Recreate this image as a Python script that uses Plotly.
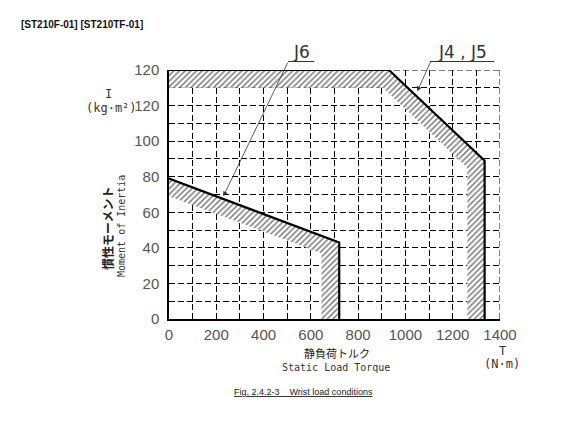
import plotly.graph_objects as go

# ---- data ----
x_ticks = [0, 200, 400, 600, 800, 1000, 1200, 1400]
y_tick_vals = [0, 20, 40, 60, 80, 100, 120, 140]
y_tick_text = ["0", "20", "40", "60", "80", "100", "120", "120"]  # as printed in the original

j45_T = [0, 930, 1335, 1335]
j45_I = [140, 140, 89, 0]
j45_inner_T = [0, 905, 1262, 1262]
j45_inner_I = [130, 130, 85, 0]

j6_T = [0, 720, 720]
j6_I = [79, 43, 0]
j6_inner_T = [0, 645, 645]
j6_inner_I = [69, 37, 0]

# arrow targets (data coordinates)
j6_arrow = (230, 69)
j45_arrow = (1050, 128)

# ---- layout geometry ----
W, H = 576, 439
L, R, T, B = 169, 500, 70, 319
PW, PH = R - L, B - T


def px(xp):
    return (xp - L) / PW


def py(yp):
    return (B - yp) / PH


fig = go.Figure()


def band(outer_x, outer_y, inner_x, inner_y):
    xs = list(outer_x) + list(reversed(inner_x))
    ys = list(outer_y) + list(reversed(inner_y))
    return go.Scatter(x=xs, y=ys, mode="lines", fill="toself",
                      line=dict(width=0, color="rgba(0,0,0,0)"),
                      fillcolor="white",
                      fillpattern=dict(shape="/", fgcolor="#000", bgcolor="white",
                                       size=4, solidity=0.38),
                      hoverinfo="skip", showlegend=False)


fig.add_trace(band(j45_T, j45_I, j45_inner_T, j45_inner_I))
fig.add_trace(band(j6_T, j6_I, j6_inner_T, j6_inner_I))

fig.add_trace(go.Scatter(x=j45_T, y=j45_I, mode="lines", line=dict(color="black", width=2.2),
                         cliponaxis=False, showlegend=False, name="J4,J5"))
fig.add_trace(go.Scatter(x=j6_T, y=j6_I, mode="lines", line=dict(color="black", width=2.2),
                         cliponaxis=False, showlegend=False, name="J6"))

tick_font = dict(family="Liberation Sans", size=15, color="#555")
dash = "6px,3px"

fig.update_layout(
    width=W, height=H,
    margin=dict(l=L, r=W - R, t=T, b=H - B, autoexpand=False),
    paper_bgcolor="white", plot_bgcolor="white",
    xaxis=dict(range=[0, 1400], tickvals=x_ticks, ticktext=[str(v) for v in x_ticks],
               showline=True, linecolor="black", linewidth=1.5,
               showgrid=True, gridcolor="black", gridwidth=1, griddash=dash,
               minor=dict(dtick=100, tick0=0, showgrid=True, gridcolor="black",
                          gridwidth=1, griddash=dash),
               zeroline=False, ticks="", ticklen=0, tickfont=tick_font, ticklabelstandoff=1),
    yaxis=dict(range=[0, 140], tickvals=y_tick_vals, ticktext=y_tick_text,
               showline=True, linecolor="black", linewidth=1.5,
               showgrid=True, gridcolor="black", gridwidth=1, griddash=dash,
               minor=dict(dtick=10, tick0=0, showgrid=True, gridcolor="black",
                          gridwidth=1, griddash=dash),
               zeroline=False, ticks="", ticklen=0, tickfont=tick_font, ticklabelstandoff=5),
)

# edge grid lines (top and right)
fig.add_shape(type="line", xref="x", yref="y", x0=0, x1=1400, y0=140, y1=140,
              line=dict(color="black", width=1, dash=dash), layer="below")
fig.add_shape(type="line", xref="x", yref="y", x0=1400, x1=1400, y0=0, y1=140,
              line=dict(color="black", width=1, dash=dash), layer="below")

lab_font = dict(family="DejaVu Sans", size=17, color="#333")


def text(xp, yp, s, font, **kw):
    opts = dict(xanchor="center", yanchor="middle", borderpad=0)
    opts.update(kw)
    fig.add_annotation(x=px(xp), y=py(yp), xref="paper", yref="paper", text=s,
                       showarrow=False, font=font, **opts)


# leader arrows (tail offsets in pixels)
fig.add_annotation(x=j6_arrow[0], y=j6_arrow[1], xref="x", yref="y", ax=65, ay=-135,
                   showarrow=True, arrowhead=2, arrowsize=1.2, arrowwidth=0.8,
                   arrowcolor="#333", text="")
fig.add_annotation(x=j45_arrow[0], y=j45_arrow[1], xref="x", yref="y", ax=14, ay=-31,
                   showarrow=True, arrowhead=2, arrowsize=1.2, arrowwidth=0.8,
                   arrowcolor="#333", text="")
fig.add_shape(type="line", xref="paper", yref="paper", x0=px(288), x1=px(314),
              y0=py(61.5), y1=py(61.5), line=dict(color="#333", width=1))
fig.add_shape(type="line", xref="paper", yref="paper", x0=px(430), x1=px(494),
              y0=py(61.5), y1=py(61.5), line=dict(color="#333", width=1))
text(301, 52, "J6", lab_font)
text(462, 52, "J4 , J5", lab_font)

# axis titles
mono = "DejaVu Sans Mono"
text(108, 94, "I", dict(family=mono, size=12, color="#333"))
text(138, 108, "(kg·m²)", dict(family=mono, size=12, color="#333"), xanchor="right")
text(107, 228, "<b>慣性モーメント</b>", dict(family="Noto Sans CJK JP", size=12, color="#222"),
     textangle=-90)
text(121, 226, "Moment of Inertia", dict(family=mono, size=10, color="#333"), textangle=-90)

text(337, 353, "静負荷トルク", dict(family="Noto Sans CJK JP", size=11, color="#222"))
text(336, 367, "Static Load Torque", dict(family=mono, size=10, color="#333"))
text(502, 350.5, "T", dict(family=mono, size=12, color="#333"))
text(502, 364, "(N·m)", dict(family=mono, size=12, color="#333"))

# header and caption
text(20, 24.5, "<b>[ST210F-01] [ST210TF-01]</b>",
     dict(family="Liberation Sans", size=10, color="#111"), xanchor="left")
text(303, 392, "<u>Fig. 2.4.2-3    Wrist load conditions</u>",
     dict(family="Liberation Sans", size=9, color="#222"))

fig.write_html("out.html", config={"displayModeBar": False},
               post_script="document.body.style.margin='0';")
